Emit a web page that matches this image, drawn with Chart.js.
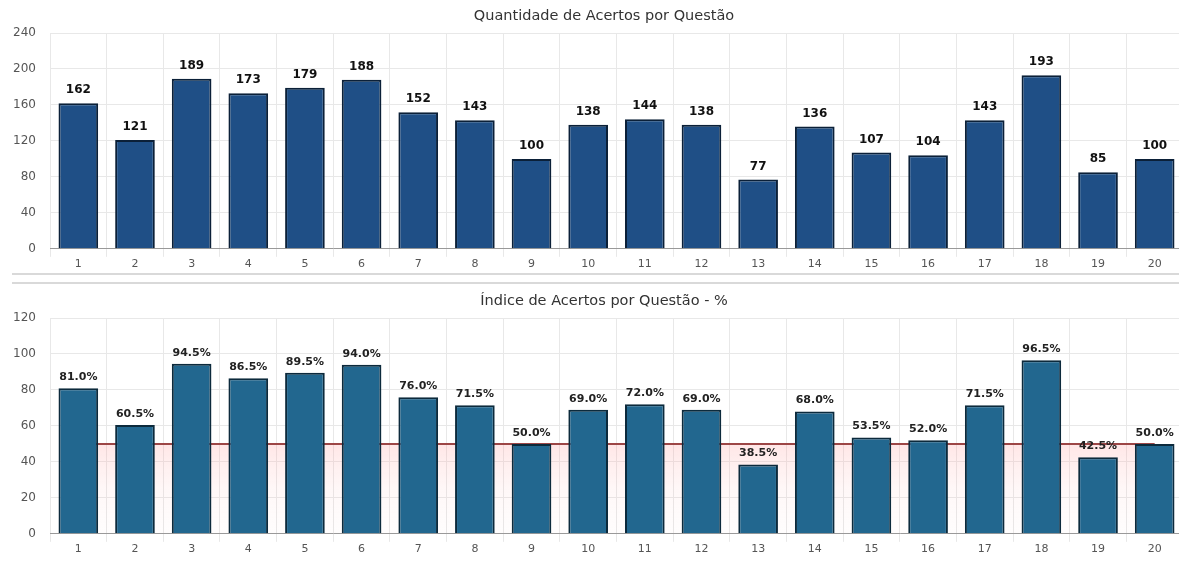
<!DOCTYPE html>
<html>
<head>
<meta charset="utf-8">
<script src="https://cdn.jsdelivr.net/npm/chart.js@4.4.1/dist/chart.umd.min.js"></script>
<style>
    html, body { margin: 0; padding: 0; background: #fff; width: 1179px; height: 561px; overflow: hidden; }
    .box { position: absolute; left: 0; width: 1208px; height: 272px; }
    .sep { position: absolute; left: 12px; width: 1167px; height: 0; border-top: 2px solid #d9d9d9; }
</style>
</head>
<body>
<div class="box" style="top:0"><canvas id="acertosChart"></canvas></div>
<div class="sep" style="top:273px"></div>
<div class="sep" style="top:282px"></div>
<div class="box" style="top:285px"><canvas id="indiceChart"></canvas></div>
<script>
const questoes = ['1', '2', '3', '4', '5', '6', '7', '8', '9', '10',
                  '11', '12', '13', '14', '15', '16', '17', '18', '19', '20'];
const acertos = [162, 121, 189, 173, 179, 188, 152, 143, 100, 138,
                 144, 138, 77, 136, 107, 104, 143, 193, 85, 100];
const indice = [81.0, 60.5, 94.5, 86.5, 89.5, 94.0, 76.0, 71.5, 50.0, 69.0,
                72.0, 69.0, 38.5, 68.0, 53.5, 52.0, 71.5, 96.5, 42.5, 50.0];
const referencia = [50, 50, 50, 50, 50, 50, 50, 50, 50, 50,
                    50, 50, 50, 50, 50, 50, 50, 50, 50, 50];
const ticksAcertos = [0, 40, 80, 120, 160, 200, 240];
const ticksIndice = [0, 20, 40, 60, 80, 100, 120];

const fonte = "'DejaVu Sans', Verdana, sans-serif";

// rótulos de valor acima das barras
function rotulos(formato, font, cor, offset) {
    return {
        id: 'rotulos',
        afterDatasetsDraw(chart) {
            const ctx = chart.ctx;
            const meta = chart.getDatasetMeta(0);
            const valores = chart.data.datasets[0].data;
            ctx.save();
            ctx.font = font;
            ctx.fillStyle = cor;
            ctx.textAlign = 'center';
            ctx.textBaseline = 'middle';
            meta.data.forEach((bar, i) => {
                ctx.fillText(formato(valores[i]), bar.x, bar.y - offset);
            });
            ctx.restore();
        }
    };
}

// título centrado na tela inteira (o canvas passa da borda direita)
function titulo(texto) {
    return {
        id: 'titulo',
        afterDraw(chart) {
            const ctx = chart.ctx;
            ctx.save();
            ctx.font = "14.5px " + fonte;
            ctx.fillStyle = '#333';
            ctx.textAlign = 'center';
            ctx.textBaseline = 'middle';
            ctx.fillText(texto, chart.width / 2, 16);
            ctx.restore();
        }
    };
}

function opcoes(ticks) {
    return {
        responsive: true,
        maintainAspectRatio: false,
        animation: false,
        layout: { padding: { left: 0, right: 25, top: 33, bottom: 0 } },
        plugins: {
            legend: { display: false },
            tooltip: { enabled: false },
            title: { display: false }
        },
        scales: {
            x: {
                grid: { offset: true, color: '#e8e8e8', tickLength: 8 },
                border: { color: '#999' },
                ticks: { color: '#555', padding: 1, font: { family: fonte, size: 11 } }
            },
            y: {
                min: ticks[0],
                max: ticks[ticks.length - 1],
                afterFit(axis) { axis.width = 50; },
                grid: { color: '#e8e8e8', drawTicks: false },
                border: { display: false },
                ticks: {
                    stepSize: ticks[1] - ticks[0],
                    color: '#555',
                    padding: 14,
                    font: { family: fonte, size: 12 }
                }
            }
        }
    };
}

// 1. Quantidade de acertos
new Chart(document.getElementById('acertosChart').getContext('2d'), {
    type: 'bar',
    data: {
        labels: questoes,
        datasets: [{
            label: 'Acertos',
            data: acertos,
            backgroundColor: '#1f4f86',
            borderColor: '#0b2038',
            borderWidth: 2,
            categoryPercentage: 1,
            barPercentage: 0.7
        }]
    },
    options: opcoes(ticksAcertos),
    plugins: [
        rotulos(v => String(v), "bold 12px " + fonte, '#111', 13),
        titulo('Quantidade de Acertos por Questão')
    ]
});

// 2. Índice de acertos (%)
new Chart(document.getElementById('indiceChart').getContext('2d'), {
    type: 'bar',
    data: {
        labels: questoes,
        datasets: [{
            label: 'Índice',
            data: indice,
            backgroundColor: '#22678f',
            borderColor: '#0c2a3c',
            borderWidth: 2,
            categoryPercentage: 1,
            barPercentage: 0.7,
            order: 0
        }, {
            type: 'line',
            label: 'Meta',
            data: referencia,
            borderColor: '#9c4646',
            borderWidth: 2,
            backgroundColor(context) {
                const chart = context.chart;
                const area = chart.chartArea;
                if (!area) return 'rgba(255, 170, 170, 0.12)';
                const topo = chart.scales.y.getPixelForValue(50);
                const g = chart.ctx.createLinearGradient(0, topo, 0, area.bottom);
                g.addColorStop(0, 'rgba(255, 160, 160, 0.26)');
                g.addColorStop(0.5, 'rgba(255, 180, 180, 0.10)');
                g.addColorStop(1, 'rgba(255, 200, 200, 0.03)');
                return g;
            },
            fill: 'origin',
            pointRadius: 0,
            order: 1
        }]
    },
    options: opcoes(ticksIndice),
    plugins: [
        rotulos(v => v.toFixed(1) + '%', "bold 11px " + fonte, '#222', 11),
        titulo('Índice de Acertos por Questão - %')
    ]
});
</script>
</body>
</html>
